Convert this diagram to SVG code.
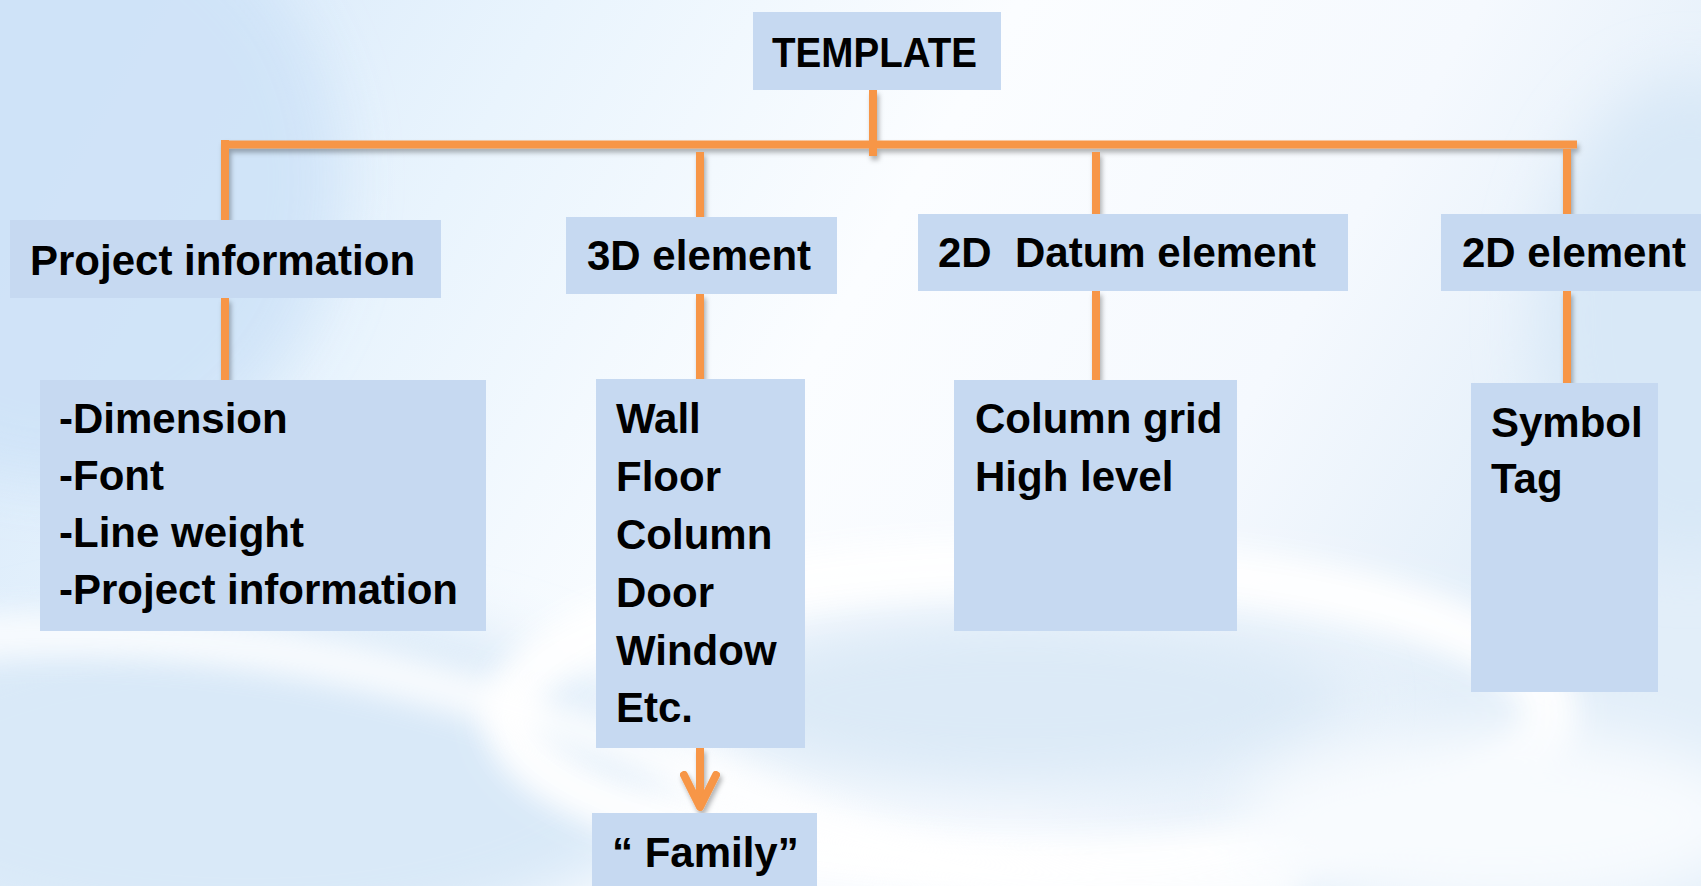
<svg xmlns="http://www.w3.org/2000/svg" width="1701" height="886" viewBox="0 0 1701 886">
  <defs>
    <linearGradient id="bgBase" x1="0" y1="0" x2="1" y2="0.3">
      <stop offset="0" stop-color="#d3e6f9"/>
      <stop offset="0.3" stop-color="#e9f4fd"/>
      <stop offset="0.55" stop-color="#fbfdff"/>
      <stop offset="0.8" stop-color="#f5f9fe"/>
      <stop offset="1" stop-color="#e2eef9"/>
    </linearGradient>
    <filter id="soft" x="-30%" y="-60%" width="160%" height="220%">
      <feGaussianBlur stdDeviation="30"/>
    </filter>
    <filter id="softer" x="-30%" y="-60%" width="160%" height="220%">
      <feGaussianBlur stdDeviation="14"/>
    </filter>
    <filter id="lineShadow" x="-10%" y="-50%" width="120%" height="300%">
      <feDropShadow dx="2" dy="4" stdDeviation="2.5" flood-color="#000" flood-opacity="0.3"/>
    </filter>
    <marker id="chevron" viewBox="0 0 40 40" refX="36" refY="20" markerWidth="40" markerHeight="40" markerUnits="userSpaceOnUse" orient="auto">
      <path d="M4 4 L36 20 L4 36" fill="none" stroke="#f79646" stroke-width="8" stroke-linecap="round" stroke-linejoin="round"/>
    </marker>
    <style>
      .box { fill: #c6d9f1; }
      .label { font-family: "Liberation Sans", Arial, sans-serif; font-weight: bold; font-size: 42px; fill: #000; white-space: pre; }
      .wire { stroke: #f79646; stroke-width: 8; fill: none; }
    </style>
  </defs>

  <!-- background wash with soft light swirls -->
  <rect x="0" y="0" width="1701" height="886" fill="url(#bgBase)"/>
  <g>
    <ellipse cx="60" cy="180" rx="280" ry="300" fill="#cfe3f8" filter="url(#soft)" opacity="0.9"/>
    <ellipse cx="1690" cy="320" rx="150" ry="240" fill="#d8e8f7" filter="url(#soft)"/>
    <ellipse cx="250" cy="780" rx="420" ry="170" fill="#d9e9f8" filter="url(#soft)"/>
    <ellipse cx="1020" cy="700" rx="330" ry="90" fill="#dceaf7" filter="url(#soft)"/>
    <ellipse cx="1030" cy="715" rx="520" ry="150" fill="none" stroke="#ffffff" stroke-width="55" filter="url(#softer)" opacity="0.95"/>
    <path d="M-60 640 C 250 610, 520 700, 760 800 S 1100 900, 1300 880" fill="none" stroke="#ffffff" stroke-width="45" filter="url(#softer)" opacity="0.8"/>
    <ellipse cx="1500" cy="820" rx="260" ry="90" fill="#f8fbfe" filter="url(#soft)"/>
  </g>

  <!-- connectors -->
  <g id="connectors" filter="url(#lineShadow)">
    <line class="wire" x1="873" y1="90" x2="873" y2="156"/>
    <line class="wire" x1="221" y1="144.5" x2="1577" y2="144.5"/>
    <line class="wire" x1="225" y1="140" x2="225" y2="220"/>
    <line class="wire" x1="225" y1="298" x2="225" y2="380"/>
    <line class="wire" x1="700" y1="152" x2="700" y2="217"/>
    <line class="wire" x1="700" y1="294" x2="700" y2="380"/>
    <line class="wire" x1="1096" y1="152" x2="1096" y2="214"/>
    <line class="wire" x1="1096" y1="291" x2="1096" y2="380"/>
    <line class="wire" x1="1567" y1="149" x2="1567" y2="214"/>
    <line class="wire" x1="1567" y1="291" x2="1567" y2="383"/>
    <line class="wire" x1="700" y1="748" x2="700" y2="807" marker-end="url(#chevron)"/>
  </g>

  <g id="template">
    <rect class="box" x="753" y="12" width="248" height="78"/>
    <text class="label" x="772" y="67" font-size="44" textLength="205" lengthAdjust="spacingAndGlyphs">TEMPLATE</text>
  </g>

  <g id="project-information">
    <rect class="box" x="10" y="220" width="431" height="78"/>
    <text class="label" x="30" y="275">Project information</text>
  </g>

  <g id="project-information-items">
    <rect class="box" x="40" y="380" width="446" height="251"/>
    <text class="label" x="59" y="433">-Dimension</text>
    <text class="label" x="59" y="490">-Font</text>
    <text class="label" x="59" y="547">-Line weight</text>
    <text class="label" x="59" y="604">-Project information</text>
  </g>

  <g id="element-3d">
    <rect class="box" x="566" y="217" width="271" height="77"/>
    <text class="label" x="587" y="270">3D element</text>
  </g>

  <g id="element-3d-items">
    <rect class="box" x="596" y="379" width="209" height="369"/>
    <text class="label" x="616" y="433">Wall</text>
    <text class="label" x="616" y="491">Floor</text>
    <text class="label" x="616" y="549">Column</text>
    <text class="label" x="616" y="607">Door</text>
    <text class="label" x="616" y="665">Window</text>
    <text class="label" x="616" y="722">Etc.</text>
  </g>

  <g id="family">
    <rect class="box" x="592" y="813" width="225" height="80"/>
    <text class="label" x="612" y="867">“ Family”</text>
  </g>

  <g id="datum-2d">
    <rect class="box" x="918" y="214" width="430" height="77"/>
    <text class="label" x="938" y="267">2D  Datum element</text>
  </g>

  <g id="datum-2d-items">
    <rect class="box" x="954" y="380" width="283" height="251"/>
    <text class="label" x="975" y="433">Column grid</text>
    <text class="label" x="975" y="491">High level</text>
  </g>

  <g id="element-2d">
    <rect class="box" x="1441" y="214" width="270" height="77"/>
    <text class="label" x="1462" y="267">2D element</text>
  </g>

  <g id="element-2d-items">
    <rect class="box" x="1471" y="383" width="187" height="309"/>
    <text class="label" x="1491" y="437">Symbol</text>
    <text class="label" x="1491" y="493">Tag</text>
  </g>
</svg>
